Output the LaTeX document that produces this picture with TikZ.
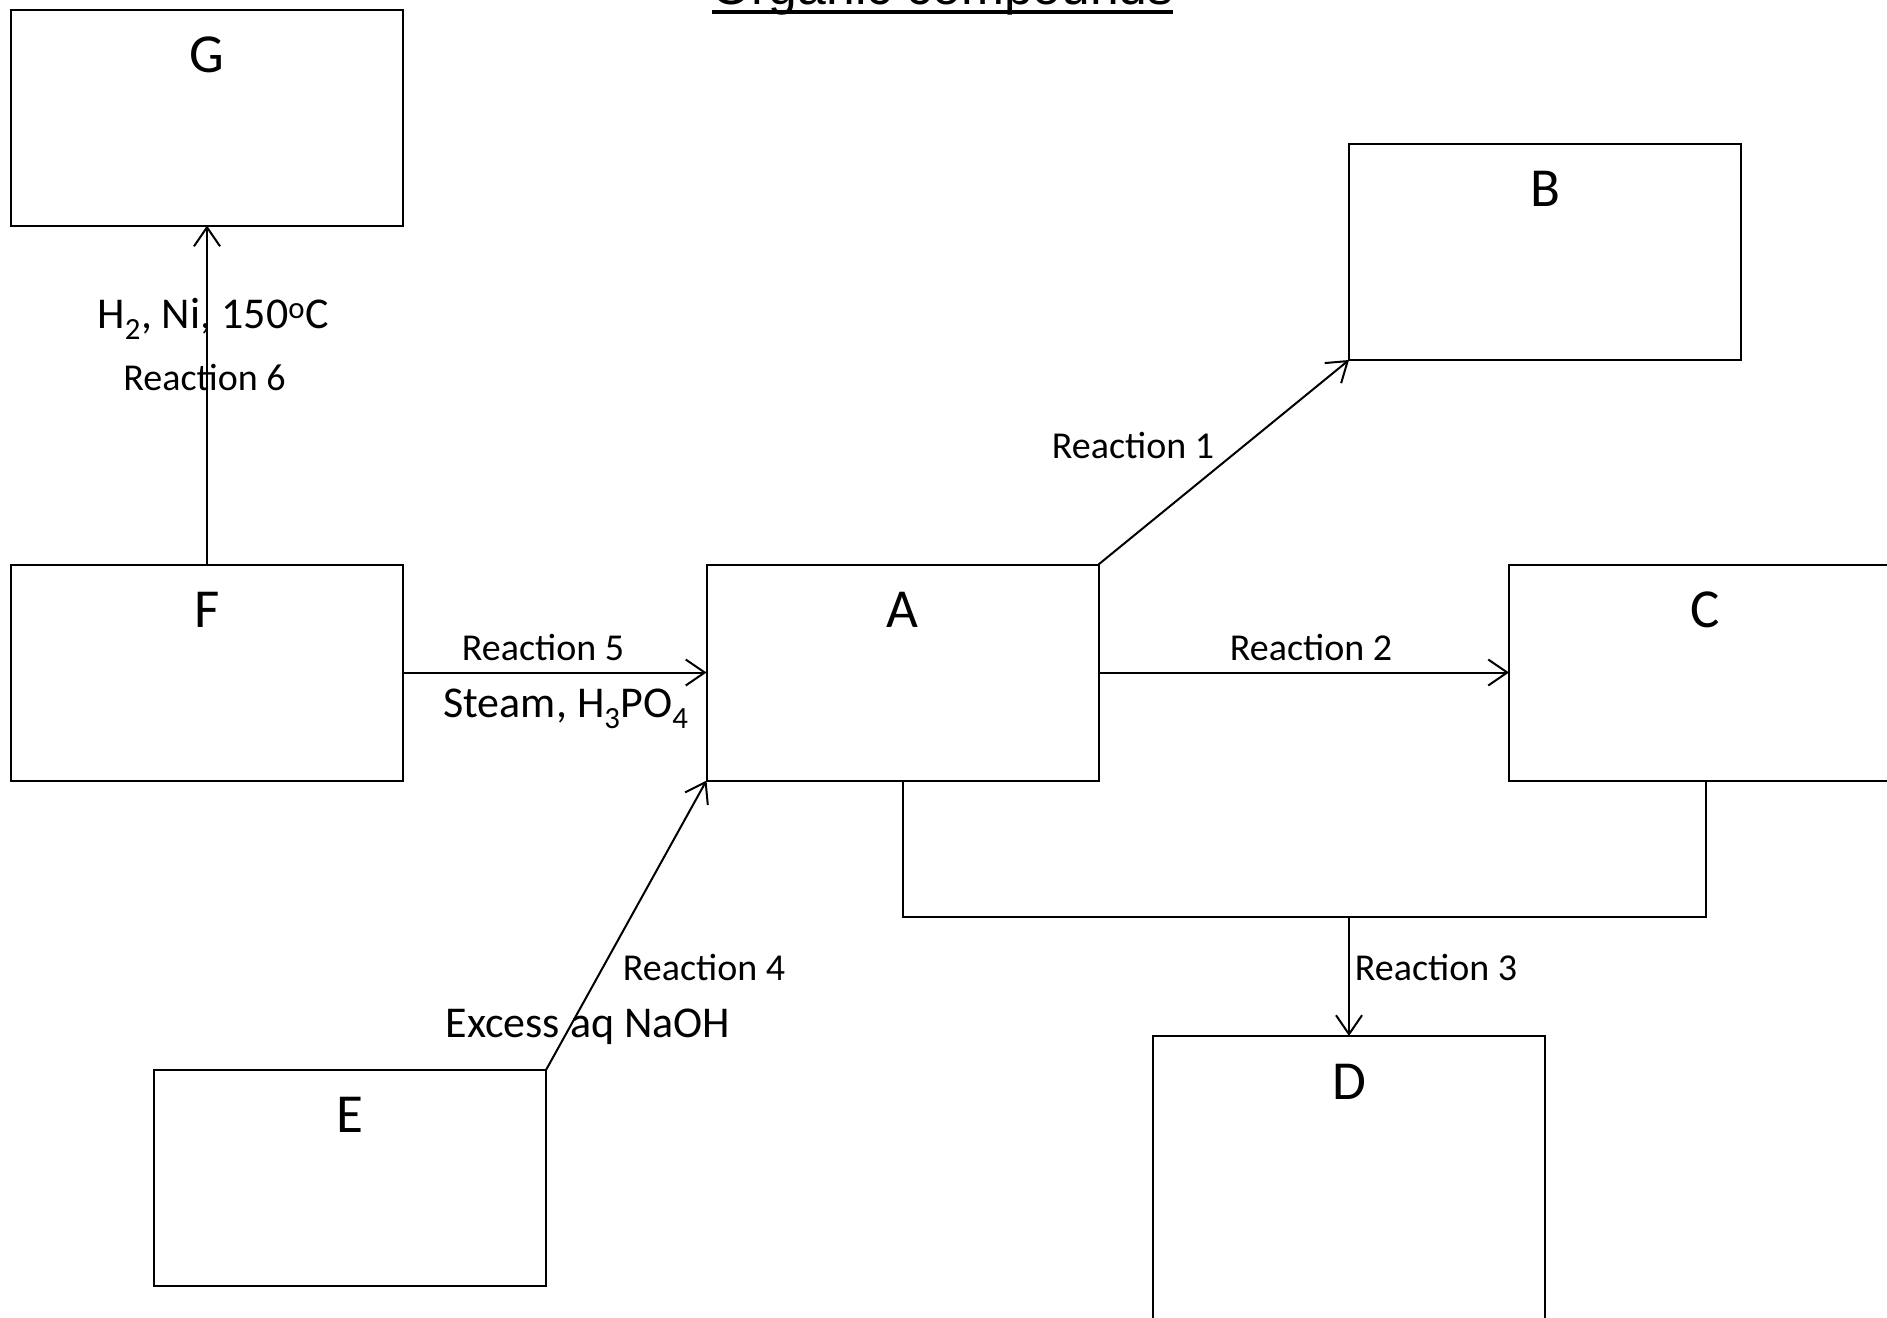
\documentclass[tikz,border=0pt]{standalone}
\usepackage{fontspec}
\setmainfont{Carlito}
\newfontfamily\titlefont{Liberation Sans}
\usetikzlibrary{arrows.meta}
\begin{document}
\begin{tikzpicture}[x=1pt,y=-1pt,
  box/.style={draw,line width=2pt,rectangle,inner sep=0pt,outer sep=0pt,minimum width=392pt,minimum height=216pt},
  letter/.style={anchor=base,inner sep=0pt,font=\fontsize{55}{60}\selectfont},
  small/.style={anchor=base,inner sep=0pt,font=\fontsize{38}{44}\selectfont},
  mid/.style={anchor=base,inner sep=0pt,font=\fontsize{44}{50}\selectfont},
  arr/.style={line width=2pt,-{Straight Barb[length=19pt,width=26pt,line width=2pt]}},
  conn/.style={line width=2pt}]
\useasboundingbox (0,0) rectangle (1887,1317);
% title
\node[anchor=base,inner sep=0pt,font=\titlefont\fontsize{51.6}{60}\selectfont] (title) at (942.5,5) {Organic compounds};
\draw[line width=4pt] (712,12) -- (1173,12);
% boxes
\node[box] (G) at (207,117.5) {};
\node[box] (F) at (207,672.5) {};
\node[box] (A) at (902.5,672.5) {};
\node[box] (B) at (1545,252) {};
\node[box,minimum width=393pt] (C) at (1705.5,672.5) {};
\node[box] (E) at (350,1178) {};
\node[box,minimum height=320pt] (D) at (1349,1196) {};
% letters
\node[letter] (Gl) at (207,72) {G};
\node[letter] (Fl) at (207,627) {F};
\node[letter] (Al) at (902.5,627) {A};
\node[letter] (Bl) at (1545,206) {B};
\node[letter] (Cl) at (1705.5,627) {C};
\node[letter] (El) at (350,1132) {E};
\node[letter] (Dl) at (1349,1099) {D};
% connectors
\draw[arr] (F.north) -- (G.south);
\draw[arr] (F.east) -- (A.west);
\draw[arr] (A.north east) -- (B.south west);
\draw[arr] (A.east) -- (C.west);
\draw[arr] (E.north east) -- (A.south west);
\coordinate (J) at (1349,917);
\draw[conn] (A.south) -- (A.south |- J) -- (C.south |- J) -- (C.south);
\draw[arr] (J) -- (D.north);
% labels
\node[mid] (l6a) at (213,328) {H\textsubscript{2}, Ni, 150\textsuperscript{o}C};
\node[small] (l6b) at (204.5,390) {Reaction 6};
\node[small] (l5a) at (543,660) {Reaction 5};
\node[mid] (l5b) at (566,717) {Steam, H\textsubscript{3}PO\textsubscript{4}};
\node[small] (l2) at (1311,660) {Reaction 2};
\node[small] (l1) at (1133,458) {Reaction 1};
\node[small] (l3) at (1436,980) {Reaction 3};
\node[small] (l4a) at (704,980) {Reaction 4};
\node[mid] (l4b) at (588,1037) {Excess aq NaOH};
\end{tikzpicture}
\end{document}
